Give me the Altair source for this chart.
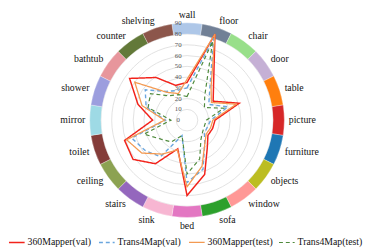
import math
import altair as alt
import pandas as pd

categories = ["wall", "floor", "chair", "door", "table", "picture", "furniture",
              "objects", "window", "sofa", "bed", "sink", "stairs", "ceiling",
              "toilet", "mirror", "shower", "bathtub", "counter", "shelving"]
ring_colors = ["#aec7e8", "#718096", "#98df8a", "#c5b0d5", "#ff7f0e", "#d62728",
               "#1f77b4", "#bcbd22", "#ff9896", "#2ca02c", "#e377c2", "#f7b6d2",
               "#9467bd", "#8ca252", "#843c39", "#9edae5", "#9c9ede", "#e7969c",
               "#637939", "#8c564b"]

series_names = ["360Mapper(val)", "Trans4Map(val)", "360Mapper(test)", "Trans4Map(test)"]
series_colors = ["#f2231b", "#6aa6de", "#f39a52", "#4f8a3c"]
series_dash = [[1, 0], [4, 3], [1, 0], [4, 3]]
series_width = [1.5, 1.2, 1.4, 1.3]

mapper_val = [35, 84, 42, 30, 51, 26, 25, 24, 32, 53, 70, 28, 50, 62, 61, 32, 48, 66, 49, 34]
trans_val = [30, 80, 36, 25, 40, 22, 20, 20, 28, 48, 58, 15, 42, 48, 54, 20, 40, 48, 33, 29]
mapper_test = [38, 84, 38, 28, 48, 24, 23, 22, 28, 45, 62, 29, 39, 52, 59, 21, 44, 60, 32, 26]
trans_test = [22, 77, 28, 20, 36, 18, 17, 18, 22, 38, 50, 15, 25, 30, 42, 15, 38, 42, 28, 25]

levels = [0, 10, 20, 30, 40, 50, 60, 70, 80, 90]
grid_levels = [10, 20, 30, 40, 50, 60, 70, 80]

# geometry (pixels)
W, H = 369, 240
CX, CY = 183, 112
K = 1.1  # px per unit
ring_inner, ring_outer = 88, 99.5
FONT = "Liberation Serif, Times New Roman, serif"

xs = alt.Scale(domain=[-CX / K, (W - CX) / K], range=[0, W], nice=False, zero=False)
ys = alt.Scale(domain=[-(H - CY) / K, CY / K], range=[H, 0], nice=False, zero=False)
X0 = alt.X("x0:Q", scale=xs, axis=None)
Y0 = alt.Y("y0:Q", scale=ys, axis=None)

rows = []
for name, vals in zip(series_names, [mapper_val, trans_val, mapper_test, trans_test]):
    for i, v in enumerate(vals):
        rows.append({"series": name, "idx": i, "value": v})
df_lines = pd.DataFrame(rows)

df_cats = pd.DataFrame({"idx": list(range(len(categories))), "cat": categories,
                        "col": ring_colors})
df_grid = pd.DataFrame({"level": grid_levels})
df_lab = pd.DataFrame({"level": levels})

# ring segments
ring = alt.Chart(df_cats).transform_calculate(
    t0="(datum.idx*18+351)*PI/180", t1="(datum.idx*18+369)*PI/180", x0="0", y0="0"
).mark_arc(radius=ring_outer, radius2=ring_inner, stroke="white", strokeWidth=0.3).encode(
    x=X0, y=Y0,
    theta=alt.Theta("t0:Q", scale=None, stack=None),
    theta2="t1:Q",
    color=alt.Color("col:N", scale=None),
)

# circular gridlines
grid = alt.Chart(df_grid).transform_calculate(
    x0="0", y0="0", sz=f"pow(2*datum.level*{K},2)"
).mark_point(shape="circle", filled=False, color="#dedede", strokeWidth=0.9, opacity=1).encode(
    x=X0, y=Y0, size=alt.Size("sz:Q", scale=None)
)

# radial value labels
vlab = alt.Chart(df_lab).transform_calculate(x0="0").mark_text(
    font=FONT, fontSize=7, color="#555555", dx=-9
).encode(x=X0, y=alt.Y("level:Q", scale=ys, axis=None), text="level:Q")

# series lines
lines = alt.Chart(df_lines).transform_calculate(
    x0="datum.value*sin(datum.idx*PI/10)", y0="datum.value*cos(datum.idx*PI/10)"
).mark_line(interpolate="linear-closed").encode(
    x=X0, y=Y0,
    order=alt.Order("idx:Q"),
    detail="series:N",
    color=alt.Color("series:N", scale=alt.Scale(domain=series_names, range=series_colors),
                    legend=alt.Legend(orient="none", legendX=0, legendY=228, direction="horizontal",
                                      title=None, symbolType="stroke", symbolSize=256,
                                      symbolStrokeWidth=1.5, labelFont=FONT, labelFontSize=10,
                                      labelColor="#111111", columnPadding=3, labelOffset=2,
                                      columns=4, labelLimit=200, gridAlign="all")),
    strokeDash=alt.StrokeDash("series:N", scale=alt.Scale(domain=series_names, range=series_dash),
                              legend=None),
    strokeWidth=alt.StrokeWidth("series:N", scale=alt.Scale(domain=series_names, range=series_width),
                                legend=None),
)

def cat_layer(filt, align, baseline, radius_expr):
    return alt.Chart(df_cats).transform_filter(filt).transform_calculate(
        lr=f"({radius_expr})/{K}",
    ).transform_calculate(
        x0="datum.lr*sin(datum.idx*PI/10)", y0="datum.lr*cos(datum.idx*PI/10)"
    ).mark_text(font=FONT, fontSize=10, color="#111111", align=align, baseline=baseline).encode(
        x=X0, y=Y0, text="cat:N"
    )

labs_top = cat_layer("datum.idx == 0", "center", "alphabetic", f"{CY - 8}")
labs_bot = cat_layer("datum.idx == 10", "center", "middle", "108")
labs_l = cat_layer("datum.idx > 0 && datum.idx < 10", "left", "middle",
                   "104+3*abs(cos(datum.idx*PI/10))")
labs_r = cat_layer("datum.idx > 10", "right", "middle",
                   "104+3*abs(cos(datum.idx*PI/10))")

chart = alt.layer(grid, ring, vlab, lines, labs_top, labs_bot, labs_l, labs_r).properties(
    width=W, height=H, padding=0, autosize=alt.AutoSizeParams(type="none")
).configure_view(stroke=None)

chart.save("out.html", embed_options={"renderer": "svg", "actions": False})
